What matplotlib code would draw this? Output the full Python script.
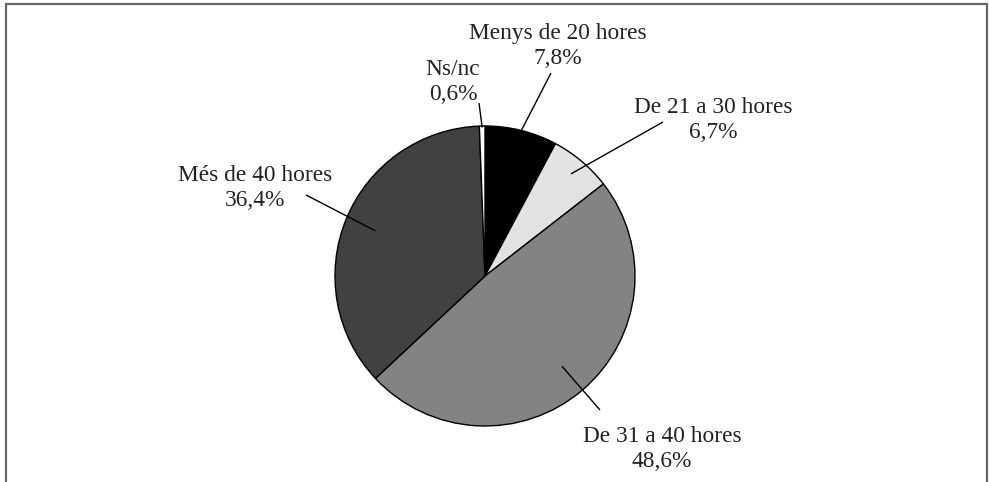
import matplotlib
matplotlib.use("Agg")
import matplotlib.pyplot as plt
import numpy as np
from matplotlib.patches import Rectangle

# Data
categories = ["Menys de 20 hores", "De 21 a 30 hores", "De 31 a 40 hores", "Més de 40 hores", "Ns/nc"]
values = [7.8, 6.7, 48.6, 36.4, 0.6]
value_labels = ["7,8%", "6,7%", "48,6%", "36,4%", "0,6%"]
colors = ["#000000", "#e2e2e2", "#838383", "#414141", "#ffffff"]

# Layout (pixel coordinates, y measured from top)
W, H = 989, 482
center_px = (485, 276)
radius_px = 150
label_pos = [(558, 46), (713, 120), (662, 449), (255, 188), (453, 82)]
line_outer = [(551, 73), (663, 122), (600, 410), (306, 195), (479, 103)]
line_inner_r = [1.0, 0.89, 0.79, 0.79, 0.99]

fig = plt.figure(figsize=(W / 100, H / 100), dpi=100)
ax = fig.add_axes([0, 0, 1, 1])

def Y(py):
    return H - py

cx, cy = center_px[0], Y(center_px[1])
wedges, _ = ax.pie(values, colors=colors, startangle=90, counterclock=False,
                   center=(cx, cy), radius=radius_px, frame=True,
                   wedgeprops=dict(edgecolor="black", linewidth=1.0))
ax.set_xlim(0, W)
ax.set_ylim(0, H)
ax.set_aspect("equal")
ax.axis("off")

for i, w in enumerate(wedges):
    mid = np.deg2rad((w.theta1 + w.theta2) / 2)
    r = radius_px * line_inner_r[i]
    x_in = cx + r * np.cos(mid)
    y_in = cy + r * np.sin(mid)
    ox, oy = line_outer[i]
    ax.plot([ox, x_in], [Y(oy), y_in], color="black", lw=1.0, solid_capstyle="butt")
    lx, ly = label_pos[i]
    ax.text(lx, Y(ly), categories[i] + "\n" + value_labels[i], ha="center", va="center",
            fontsize=16.8, family="Liberation Serif", color="#222222", linespacing=1.2)

# Border frame
ax.add_patch(Rectangle((6, -10), 981, Y(4) + 10, fill=False, edgecolor="#666666",
                       linewidth=1.6, clip_on=False))

fig.savefig("out.png", dpi=100)
